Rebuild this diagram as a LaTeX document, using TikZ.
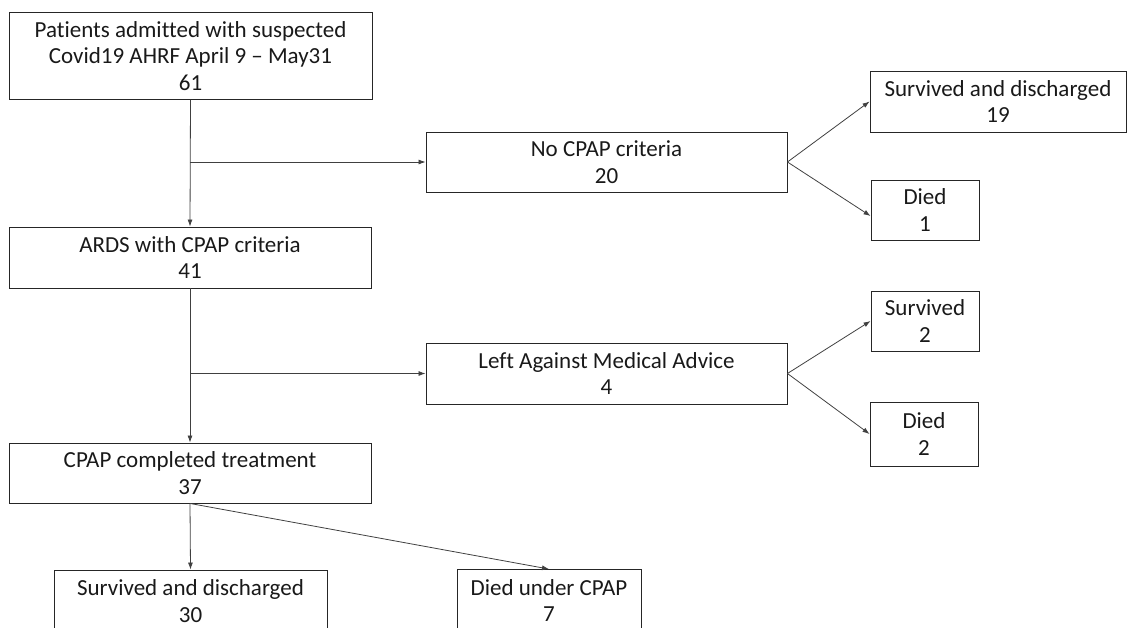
\documentclass[tikz,border=0pt]{standalone}
\usepackage{fontspec}
\setmainfont{Carlito}[Ligatures=NoCommon]
\usetikzlibrary{arrows.meta}
\begin{document}
\begin{tikzpicture}[x=1pt,y=-1pt,
  box/.style={draw=black!85, line width=0.9pt, rectangle, inner sep=0pt, align=center,
    font=\fontsize{23}{26.5}\selectfont, text=black!90},
  conn/.style={draw=black!75, line width=0.8pt, -{Latex[length=7pt,width=5pt]}},
  plain/.style={draw=black!75, line width=0.8pt}]
\useasboundingbox (0,0) rectangle (1128,627);
\node[box, minimum width=363pt, minimum height=87pt] (top) at (190.5,56) {Patients admitted with suspected\\Covid19 AHRF April 9 -- May31\\61};
\node[box, minimum width=362pt, minimum height=61pt] (ards) at (190,257.5) {ARDS with CPAP criteria\\41};
\node[box, minimum width=361pt, minimum height=60pt] (nocpap) at (606.5,162) {No CPAP criteria\\20};
\node[box, minimum width=256pt, minimum height=61pt] (sd19) at (998,101.5) {Survived and discharged\\19};
\node[box, minimum width=108pt, minimum height=60pt] (died1) at (925,210) {Died\\1};
\node[box, minimum width=361pt, minimum height=61pt] (lama) at (606.5,373.5) {Left Against Medical Advice\\4};
\node[box, minimum width=108pt, minimum height=60pt] (surv2) at (925,321) {Survived\\2};
\node[box, minimum width=108pt, minimum height=64pt] (died2) at (924,434) {Died\\2};
\node[box, minimum width=362pt, minimum height=60pt] (cpap) at (190,473) {CPAP completed treatment\\37};
\node[box, minimum width=273pt, minimum height=62pt] (sd30) at (190.5,601) {Survived and discharged\\30};
\node[box, minimum width=184pt, minimum height=62pt] (died7) at (549,600.5) {Died under CPAP\\7};
\coordinate (b1) at (190,162);
\coordinate (b2) at (190,373.5);
\draw[conn] (top.south) -- (ards.north);
\draw[conn] (b1) -- (nocpap.west);
\draw[conn] (nocpap.east) -- (sd19.west);
\draw[conn] (nocpap.east) -- ([yshift=-6pt]died1.west);
\draw[conn] (ards.south) -- (cpap.north);
\draw[conn] (b2) -- (lama.west);
\draw[conn] (lama.east) -- (surv2.west);
\draw[conn] (lama.east) -- (died2.west);
\draw[conn] (cpap.south) -- (sd30.north);
\draw[conn] (cpap.south) -- (died7.north);
\end{tikzpicture}
\end{document}
